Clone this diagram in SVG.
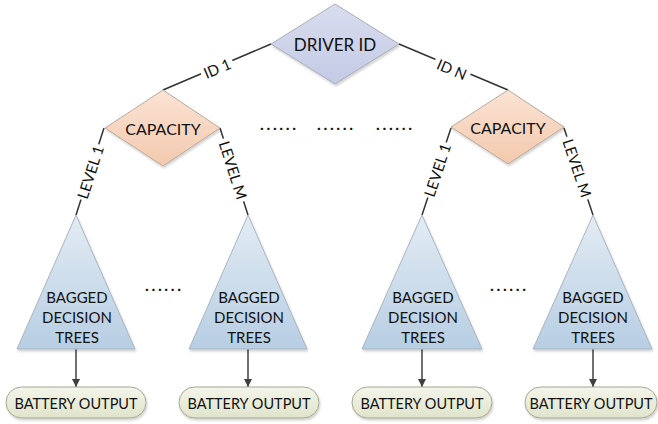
<svg xmlns="http://www.w3.org/2000/svg" width="658" height="424" viewBox="0 0 658 424">
<defs>
<linearGradient id="gDriver" x1="0" y1="0" x2="0" y2="1"><stop offset="0" stop-color="#d9ddef"/><stop offset="1" stop-color="#c3cae4"/></linearGradient>
<linearGradient id="gCap" x1="0" y1="0" x2="0" y2="1"><stop offset="0" stop-color="#fbe3d4"/><stop offset="1" stop-color="#f3c9ad"/></linearGradient>
<linearGradient id="gTri" x1="0" y1="0" x2="0" y2="1"><stop offset="0" stop-color="#e3ecf4"/><stop offset="1" stop-color="#b7cee3"/></linearGradient>
<linearGradient id="gOut" x1="0" y1="0" x2="0" y2="1"><stop offset="0" stop-color="#f4f5ea"/><stop offset="1" stop-color="#e0e4cb"/></linearGradient>
<filter id="sh" x="-10%" y="-10%" width="130%" height="130%"><feDropShadow dx="1" dy="2" stdDeviation="1" flood-color="#000" flood-opacity="0.18"/></filter>
<marker id="arr" viewBox="0 0 10 10" refX="10" refY="5" markerWidth="8" markerHeight="8" markerUnits="userSpaceOnUse" orient="auto"><path d="M0,0 L10,5 L0,10 z" fill="#404040"/></marker>
</defs>
<style>
.t{font-family:Lato,"Open Sans","Liberation Sans",sans-serif;fill:#111;text-anchor:middle;dominant-baseline:central}
.lbl{font-family:Lato,"Open Sans","Liberation Sans",sans-serif;fill:#111;text-anchor:middle;dominant-baseline:central;font-size:15px}
.bg{fill:#fff}
.ln{stroke:#333;stroke-width:1.5;fill:none}
.ar{stroke:#404040;stroke-width:1.5;fill:none;marker-end:url(#arr)}
.dia{fill:url(#gDriver);stroke:#a9adb8;stroke-width:1;filter:url(#sh)}
.cap{fill:url(#gCap);stroke:#b5a99f;stroke-width:1;filter:url(#sh)}
.tri{fill:url(#gTri);stroke:#a9b4be;stroke-width:1;filter:url(#sh)}
.out{fill:url(#gOut);stroke:#a3a792;stroke-width:1;filter:url(#sh)}
.dots{font-family:Lato,"Liberation Sans",sans-serif;font-size:16px;font-weight:bold;fill:#111}
</style>
<g id="connectors">
<line class="ln" x1="271" y1="44" x2="163" y2="90"/>
<line class="ln" x1="399" y1="44" x2="508" y2="90"/>
<line class="ln" x1="104" y1="128" x2="76" y2="215"/>
<line class="ln" x1="220" y1="128" x2="248" y2="215"/>
<line class="ln" x1="451" y1="128" x2="422" y2="215"/>
<line class="ln" x1="564" y1="128" x2="593" y2="215"/>
<line class="ar" x1="76" y1="349" x2="76" y2="387"/>
<line class="ar" x1="248" y1="349" x2="248" y2="387"/>
<line class="ar" x1="422" y1="349" x2="422" y2="387"/>
<line class="ar" x1="593" y1="349" x2="593" y2="387"/>
<g transform="translate(217,68) rotate(-23)"><rect class="bg" x="-17" y="-6" width="34" height="12"/><text class="lbl">ID 1</text></g>
<g transform="translate(452,69) rotate(23)"><rect class="bg" x="-19" y="-6" width="38" height="12"/><text class="lbl">ID N</text></g>
<g transform="translate(90,172) rotate(-72.2)"><rect class="bg" x="-29" y="-6" width="58" height="12"/><text class="lbl">LEVEL 1</text></g>
<g transform="translate(233.5,170) rotate(72.2)"><rect class="bg" x="-33" y="-6" width="66" height="12"/><text class="lbl">LEVEL M</text></g>
<g transform="translate(437,170) rotate(-71.6)"><rect class="bg" x="-29" y="-6" width="58" height="12"/><text class="lbl">LEVEL 1</text></g>
<g transform="translate(577.5,168) rotate(71.6)"><rect class="bg" x="-33" y="-6" width="66" height="12"/><text class="lbl">LEVEL M</text></g>
</g>
<g id="driver-id">
<polygon class="dia" points="335,4 399,44 335,84 271,44"/>
<text class="t" x="335" y="44" font-size="17">DRIVER ID</text>
</g>
<g id="capacity-1">
<polygon class="cap" points="163,90 220,128 163,166 105,128"/>
<text class="t" x="163" y="128" font-size="16">CAPACITY</text>
</g>
<g id="capacity-2">
<polygon class="cap" points="508,90 564,127 508,164 451,127"/>
<text class="t" x="508" y="127" font-size="16">CAPACITY</text>
</g>
<g id="trees-1">
<polygon class="tri" points="76,215 135,349 17,349"/>
<text class="t" font-size="15"><tspan x="77" y="297">BAGGED</tspan><tspan x="77" y="317">DECISION</tspan><tspan x="77" y="337">TREES</tspan></text>
</g>
<g id="trees-2">
<polygon class="tri" points="248,215 307,349 189,349"/>
<text class="t" font-size="15"><tspan x="249" y="297">BAGGED</tspan><tspan x="249" y="317">DECISION</tspan><tspan x="249" y="337">TREES</tspan></text>
</g>
<g id="trees-3">
<polygon class="tri" points="422,215 482,349 362,349"/>
<text class="t" font-size="15"><tspan x="423" y="297">BAGGED</tspan><tspan x="423" y="317">DECISION</tspan><tspan x="423" y="337">TREES</tspan></text>
</g>
<g id="trees-4">
<polygon class="tri" points="593,215 652,349 533,349"/>
<text class="t" font-size="15"><tspan x="593" y="297">BAGGED</tspan><tspan x="593" y="317">DECISION</tspan><tspan x="593" y="337">TREES</tspan></text>
</g>
<g id="output-1">
<rect class="out" x="6" y="387" width="140" height="31" rx="15.5"/>
<text class="t" x="76" y="403" font-size="14.5">BATTERY OUTPUT</text>
</g>
<g id="output-2">
<rect class="out" x="179" y="387" width="140" height="31" rx="15.5"/>
<text class="t" x="249" y="403" font-size="14.5">BATTERY OUTPUT</text>
</g>
<g id="output-3">
<rect class="out" x="352" y="387" width="140" height="31" rx="15.5"/>
<text class="t" x="422" y="403" font-size="14.5">BATTERY OUTPUT</text>
</g>
<g id="output-4">
<rect class="out" x="525" y="387" width="132" height="31" rx="15.5"/>
<text class="t" x="591" y="403" font-size="14.5">BATTERY OUTPUT</text>
</g>
<g id="ellipses">
<text class="dots" x="260" y="130" textLength="36" lengthAdjust="spacing">......</text>
<text class="dots" x="317" y="130" textLength="36" lengthAdjust="spacing">......</text>
<text class="dots" x="376" y="130" textLength="36" lengthAdjust="spacing">......</text>
<text class="dots" x="145" y="291" textLength="36" lengthAdjust="spacing">......</text>
<text class="dots" x="490" y="291" textLength="36" lengthAdjust="spacing">......</text>
</g>
</svg>
